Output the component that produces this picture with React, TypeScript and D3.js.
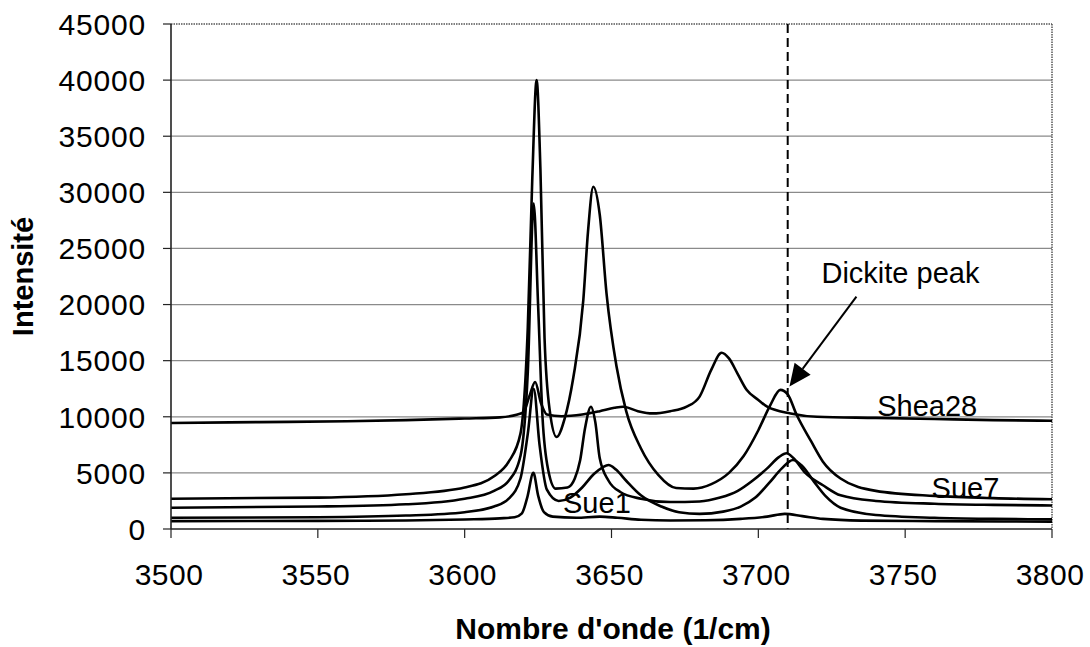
import React from "react";
import * as d3 from "d3";

// Wavenumber / intensity pairs
const shea28: [number, number][] = [
  [3500, 9450], [3520, 9500], [3540, 9550], [3560, 9600], [3580, 9700], [3600, 9850], [3612, 9950],
  [3618, 10200], [3620, 10400], [3622, 11800], [3624, 13100], [3626, 11200], [3628, 10200], [3633, 10050],
  [3640, 10200], [3646, 10500], [3651, 10800], [3654, 10900], [3659, 10500], [3664, 10300], [3670, 10500],
  [3675.6, 10900], [3680, 11800], [3684, 14200], [3687.5, 15700], [3690, 15200], [3693, 13800], [3696, 12400],
  [3700, 11500], [3703, 10900], [3711, 10300], [3720, 10000], [3740, 9900], [3760, 9800], [3780, 9700], [3800, 9650],
];

const seriesB: [number, number][] = [
  [3500, 2700], [3550, 2800], [3580, 3100], [3600, 3700], [3610, 4700], [3615, 6000], [3619, 8500],
  [3621.5, 18000], [3623, 31000], [3624.5, 40000], [3625.8, 32000], [3627.2, 17000], [3629, 10500],
  [3631.3, 8200], [3634, 9800], [3637, 13500], [3640.4, 20400], [3642, 26500], [3643.8, 30500],
  [3646, 28000], [3648.3, 21000], [3651.7, 14500], [3655, 10500], [3660, 7200], [3666, 4800],
  [3672, 3650], [3678, 3600], [3684, 4000], [3690, 5000], [3695, 6500], [3700, 8800], [3704, 11000],
  [3707.5, 12400], [3710, 12000], [3713, 10200], [3718, 7800], [3722, 6000], [3728, 4500], [3740, 3400],
  [3760, 2950], [3780, 2750], [3800, 2650],
];

const seriesC: [number, number][] = [
  [3500, 1900], [3550, 2000], [3580, 2200], [3600, 2700], [3610, 3400], [3615, 4300], [3619, 6500],
  [3621.5, 14000], [3623.5, 29000], [3625, 20000], [3626.5, 10000], [3628.5, 5200], [3631, 3600],
  [3635, 3700], [3637.5, 4500], [3639.3, 6100], [3641, 9000], [3643, 10900], [3644.5, 9500], [3646, 6300],
  [3649, 4300], [3653, 3300], [3660, 2700], [3670, 2400], [3680, 2450], [3687, 2800], [3693, 3400],
  [3698, 4300], [3703, 5400], [3707, 6400], [3709.6, 6750], [3712, 6300], [3716, 5000], [3722, 3900],
  [3728, 3000], [3740, 2500], [3760, 2250], [3780, 2150], [3800, 2100],
];

const seriesD: [number, number][] = [
  [3500, 1000], [3550, 1050], [3580, 1200], [3600, 1500], [3610, 2000], [3615, 2700], [3619, 4500],
  [3621.5, 8500], [3623.5, 12500], [3625.5, 7500], [3628, 3500], [3632, 2500], [3636, 2800],
  [3640, 3700], [3644, 4900], [3647, 5500], [3649, 5700], [3651.5, 5300], [3655, 4300], [3660, 3000],
  [3667, 2000], [3673, 1500], [3680, 1350], [3688, 1550], [3694, 2000], [3699, 2800], [3704, 4200],
  [3708, 5400], [3711.8, 6150], [3715, 5600], [3719, 4200], [3723, 2900], [3728, 1900], [3740, 1250],
  [3760, 1000], [3780, 900], [3800, 860],
];

const seriesE: [number, number][] = [
  [3500, 700], [3550, 720], [3580, 760], [3600, 850], [3612, 950], [3617, 1050], [3619.5, 1400],
  [3621.3, 2800], [3623.4, 5000], [3625, 3000], [3627, 1500], [3630, 1100], [3638, 1000], [3646, 1100],
  [3652, 1000], [3660, 820], [3670, 760], [3682, 780], [3694, 900], [3703, 1100], [3709, 1350],
  [3715, 1150], [3722, 900], [3735, 750], [3760, 700], [3800, 650],
];

const series = [shea28, seriesB, seriesC, seriesD, seriesE];

const xTicks = [3500, 3550, 3600, 3650, 3700, 3750, 3800];
const yTicks = [0, 5000, 10000, 15000, 20000, 25000, 30000, 35000, 40000, 45000];

const seriesLabels = [
  { text: "Shea28", w: 3740.5, v: 10100 },
  { text: "Sue7", w: 3759, v: 2750 },
  { text: "Sue1", w: 3633.5, v: 1400 },
];

const dickiteLine = 3710;
const arrowFrom: [number, number] = [3733.4, 20700];
const arrowTo: [number, number] = [3710.6, 12700];
const dickiteLabel = { text: "Dickite peak", w: 3721.5, v: 21900 };

const xLabel = "Nombre d'onde (1/cm)";
const yLabel = "Intensité";

export default function App() {
  const W = 1090, H = 647;
  const left = 171, right = 1052, top = 24, bottom = 529;
  const x = d3.scaleLinear().domain([3500, 3800]).range([left, right]);
  const y = d3.scaleLinear().domain([0, 45000]).range([bottom, top]);
  const line = d3
    .line<[number, number]>()
    .x((d) => x(d[0]))
    .y((d) => y(d[1]))
    .curve(d3.curveMonotoneX);

  const font = "'Liberation Sans', Arial, Helvetica, sans-serif";

  // arrow head
  const ax1 = x(arrowFrom[0]), ay1 = y(arrowFrom[1]);
  const ax2 = x(arrowTo[0]), ay2 = y(arrowTo[1]);
  const ang = Math.atan2(ay2 - ay1, ax2 - ax1);
  const hl = 22, hw = 10;
  const bx = ax2 - hl * Math.cos(ang), by = ay2 - hl * Math.sin(ang);
  const head = [
    [ax2, ay2],
    [bx + hw * Math.sin(ang), by - hw * Math.cos(ang)],
    [bx - hw * Math.sin(ang), by + hw * Math.cos(ang)],
  ];

  return (
    <svg
      width={W}
      height={H}
      style={{ position: "absolute", left: 0, top: 0, background: "#fff" }}
      fontFamily={font}
    >
      <rect x={0} y={0} width={W} height={H} fill="#fff" />
      {/* grid lines */}
      {yTicks.slice(1, -1).map((t) => (
        <line key={t} x1={left} x2={right} y1={y(t)} y2={y(t)} stroke="#8a8a8a" strokeWidth={1.2} />
      ))}
      {/* frame top/right dotted */}
      <line x1={left} x2={right} y1={top} y2={top} stroke="#555" strokeWidth={1.5} strokeDasharray="1.5,1" />
      <line x1={right} x2={right} y1={top} y2={bottom} stroke="#555" strokeWidth={1.5} strokeDasharray="1.5,1" />
      {/* dashed Dickite line */}
      <line
        x1={x(dickiteLine)}
        x2={x(dickiteLine)}
        y1={top}
        y2={bottom}
        stroke="#000"
        strokeWidth={2}
        strokeDasharray="9,5"
      />
      {/* series */}
      {series.map((s, i) => (
        <path key={i} d={line(s) || ""} fill="none" stroke="#000" strokeWidth={2.6} strokeLinejoin="round" />
      ))}
      {/* axes */}
      <line x1={left} x2={left} y1={top} y2={bottom} stroke="#222" strokeWidth={1.6} />
      <line x1={left} x2={right} y1={bottom} y2={bottom} stroke="#222" strokeWidth={1.6} />
      {yTicks.map((t) => (
        <g key={t}>
          <line x1={left - 8} x2={left} y1={y(t)} y2={y(t)} stroke="#222" strokeWidth={1.2} />
          <text x={146} y={y(t)} dy="0.36em" textAnchor="end" fontSize={30} letterSpacing={0.8} fill="#000">
            {t}
          </text>
        </g>
      ))}
      {xTicks.map((t) => (
        <g key={t}>
          <line x1={x(t)} x2={x(t)} y1={bottom} y2={bottom + 9} stroke="#222" strokeWidth={1.2} />
          <text x={x(t) - 2} y={585} textAnchor="middle" fontSize={30} letterSpacing={0.5} fill="#000">
            {t}
          </text>
        </g>
      ))}
      {/* series labels */}
      {seriesLabels.map((l) => (
        <text key={l.text} x={x(l.w)} y={y(l.v)} fontSize={29} fill="#000">
          {l.text}
        </text>
      ))}
      {/* Dickite annotation */}
      <text x={x(dickiteLabel.w)} y={y(dickiteLabel.v)} fontSize={29} fill="#000">
        {dickiteLabel.text}
      </text>
      <line x1={ax1} y1={ay1} x2={bx} y2={by} stroke="#000" strokeWidth={2} />
      <polygon points={head.map((p) => p.join(",")).join(" ")} fill="#000" />
      {/* axis titles */}
      <text x={613} y={639} textAnchor="middle" fontSize={30} fontWeight="bold" fill="#000">
        {xLabel}
      </text>
      <text
        transform={`translate(33, ${(top + bottom) / 2}) rotate(-90)`}
        textAnchor="middle"
        fontSize={29}
        fontWeight="bold"
        fill="#000"
      >
        {yLabel}
      </text>
    </svg>
  );
}
